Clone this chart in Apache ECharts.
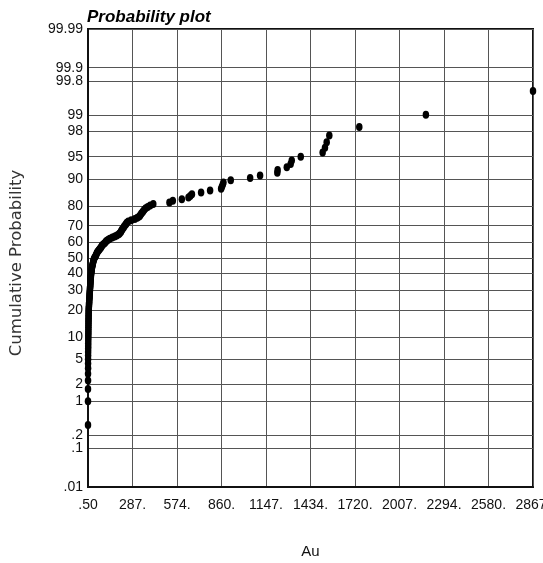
<!DOCTYPE html>
<html>
<head>
<meta charset="utf-8">
<title>Probability plot</title>
<script src="https://cdn.jsdelivr.net/npm/echarts@6/dist/echarts.min.js"></script>
<style>
  html, body { margin: 0; padding: 0; background: #fff; }
  #chart { width: 543px; height: 563px; }
</style>
</head>
<body>
<div id="chart"></div>
<script>
// Au assay values, sorted ascending (150 samples)
const auValues = [
  0.5, 0.5, 0.5, 0.7, 0.8, 1, 1, 1.2, 1.4, 1.5, 1.7, 1.9, 2, 2.2, 2.4,
  2.5, 2.7, 2.9, 3, 3.2, 3.4, 3.5, 3.7, 3.8, 4, 4.2, 4.4, 4.6, 4.8, 5,
  5.5, 6, 6.5, 7, 7.5, 8, 8.5, 9, 9.5, 10, 10.5, 11, 11.5, 12, 12.5,
  13, 13.5, 14, 14.5, 15, 15.5, 16, 16.5, 17, 17.5, 18, 18.5, 19, 19.5, 20,
  21, 22, 23, 24, 25, 26, 27, 28.5, 30, 31.5, 33, 34.5, 36, 38, 40,
  44, 48, 51, 54, 57, 60, 65, 70, 75, 80, 85, 89, 94, 101, 109,
  115, 121, 131, 141, 157, 173, 186, 199, 205, 212, 215, 219, 224, 230, 234,
  241, 246, 250, 260, 279, 302, 318, 331, 337, 343, 350, 356, 363, 372, 385, 401, 421,
  525, 547, 605, 648, 659, 670, 729, 787, 858, 863, 869, 873, 920, 1045, 1109,
  1220, 1222, 1281, 1306, 1313, 1371, 1512, 1527, 1538, 1555, 1748, 2177, 2867
];

// Probability axis ticks (percent) and their printed labels
const probTicks = [99.99, 99.9, 99.8, 99, 98, 95, 90, 80, 70, 60, 50, 40, 30, 20, 10, 5, 2, 1, 0.2, 0.1, 0.01];
const probTickLabels = ['99.99', '99.9', '99.8', '99', '98', '95', '90', '80', '70', '60', '50', '40', '30', '20', '10', '5', '2', '1', '.2', '.1', '.01'];

// Au axis ticks and their printed labels
const xTickValues = [0.5, 287.15, 573.8, 860.45, 1147.1, 1433.75, 1720.4, 2007.05, 2293.7, 2580.35, 2867];
const xTickLabels = ['.50', '287.', '574.', '860.', '1147.', '1434.', '1720.', '2007.', '2294.', '2580.', '2867.'];

// Inverse standard normal CDF (Acklam's rational approximation)
function normInv(p) {
  const a = [-3.969683028665376e+01, 2.209460984245205e+02, -2.759285104469687e+02, 1.383577518672690e+02, -3.066479806614716e+01, 2.506628277459239e+00];
  const b = [-5.447609879822406e+01, 1.615858368580409e+02, -1.556989798598866e+02, 6.680131188771972e+01, -1.328068155288572e+01];
  const c = [-7.784894002430293e-03, -3.223964580411365e-01, -2.400758277161838e+00, -2.549732539343734e+00, 4.374664141464968e+00, 2.938163982698783e+00];
  const d = [7.784695709041462e-03, 3.224671290700398e-01, 2.445134137142996e+00, 3.754408661907416e+00];
  const pl = 0.02425, ph = 1 - pl;
  let q, r;
  if (p < pl) {
    q = Math.sqrt(-2 * Math.log(p));
    return (((((c[0] * q + c[1]) * q + c[2]) * q + c[3]) * q + c[4]) * q + c[5]) /
           ((((d[0] * q + d[1]) * q + d[2]) * q + d[3]) * q + 1);
  }
  if (p <= ph) {
    q = p - 0.5; r = q * q;
    return (((((a[0] * r + a[1]) * r + a[2]) * r + a[3]) * r + a[4]) * r + a[5]) * q /
           (((((b[0] * r + b[1]) * r + b[2]) * r + b[3]) * r + b[4]) * r + 1);
  }
  q = Math.sqrt(-2 * Math.log(1 - p));
  return -(((((c[0] * q + c[1]) * q + c[2]) * q + c[3]) * q + c[4]) * q + c[5]) /
          ((((d[0] * q + d[1]) * q + d[2]) * q + d[3]) * q + 1);
}

// Hazen plotting positions on a normal-probability scale
const n = auValues.length;
const points = auValues.map((v, i) => [v, normInv((i + 0.5) / n)]);
const probTickZ = probTicks.map(p => normInv(p / 100));

function nearestIndex(arr, v) {
  let best = 0;
  for (let i = 1; i < arr.length; i++) {
    if (Math.abs(arr[i] - v) < Math.abs(arr[best] - v)) best = i;
  }
  return best;
}

const sans = "'Liberation Sans Narrow', 'Arial Narrow', 'Liberation Sans', Arial, sans-serif";

const chart = echarts.init(document.getElementById('chart'), null, { renderer: 'canvas' });
chart.setOption({
  animation: false,
  backgroundColor: '#fff',
  title: {
    text: 'Probability plot',
    left: 87,
    top: 9,
    padding: 0,
    textStyle: {
      fontFamily: sans,
      fontSize: 17,
      fontWeight: 'bold',
      fontStyle: 'italic',
      color: '#000'
    }
  },
  grid: {
    left: 88,
    right: 10,
    top: 29,
    bottom: 76,
    show: true,
    borderColor: '#111',
    borderWidth: 2,
    outerBoundsMode: 'none'
  },
  xAxis: {
    type: 'value',
    min: xTickValues[0],
    max: xTickValues[xTickValues.length - 1],
    name: 'Au',
    nameLocation: 'middle',
    nameGap: 57,
    nameTextStyle: { fontFamily: sans, fontSize: 15, color: '#111' },
    axisLine: { show: true, onZero: false, lineStyle: { color: '#111', width: 2 } },
    axisTick: { show: false, customValues: xTickValues },
    axisLabel: {
      customValues: xTickValues,
      margin: 11,
      fontFamily: sans,
      fontSize: 14,
      color: '#111',
      formatter: v => xTickLabels[nearestIndex(xTickValues, v)]
    },
    splitLine: { show: true, lineStyle: { color: '#555', width: 1 } }
  },
  yAxis: {
    type: 'value',
    min: normInv(0.0001),
    max: normInv(0.9999),
    name: 'Cumulative Probability',
    nameLocation: 'middle',
    nameGap: 63,
    nameTextStyle: {
      fontFamily: "'DejaVu Sans', sans-serif",
      fontSize: 16.5,
      color: '#333',
      padding: [0, 10, 0, 0]
    },
    axisLine: { show: true, onZero: false, lineStyle: { color: '#111', width: 2 } },
    axisTick: { show: false, customValues: probTickZ },
    axisLabel: {
      customValues: probTickZ,
      margin: 5,
      fontFamily: sans,
      fontSize: 14,
      color: '#111',
      formatter: v => probTickLabels[nearestIndex(probTickZ, v)]
    },
    splitLine: { show: true, lineStyle: { color: '#555', width: 1 } }
  },
  series: [{
    type: 'scatter',
    data: points,
    symbol: 'circle',
    symbolSize: [6.5, 8],
    clip: false,
    itemStyle: { color: '#000', opacity: 1 }
  }]
});
</script>
</body>
</html>
